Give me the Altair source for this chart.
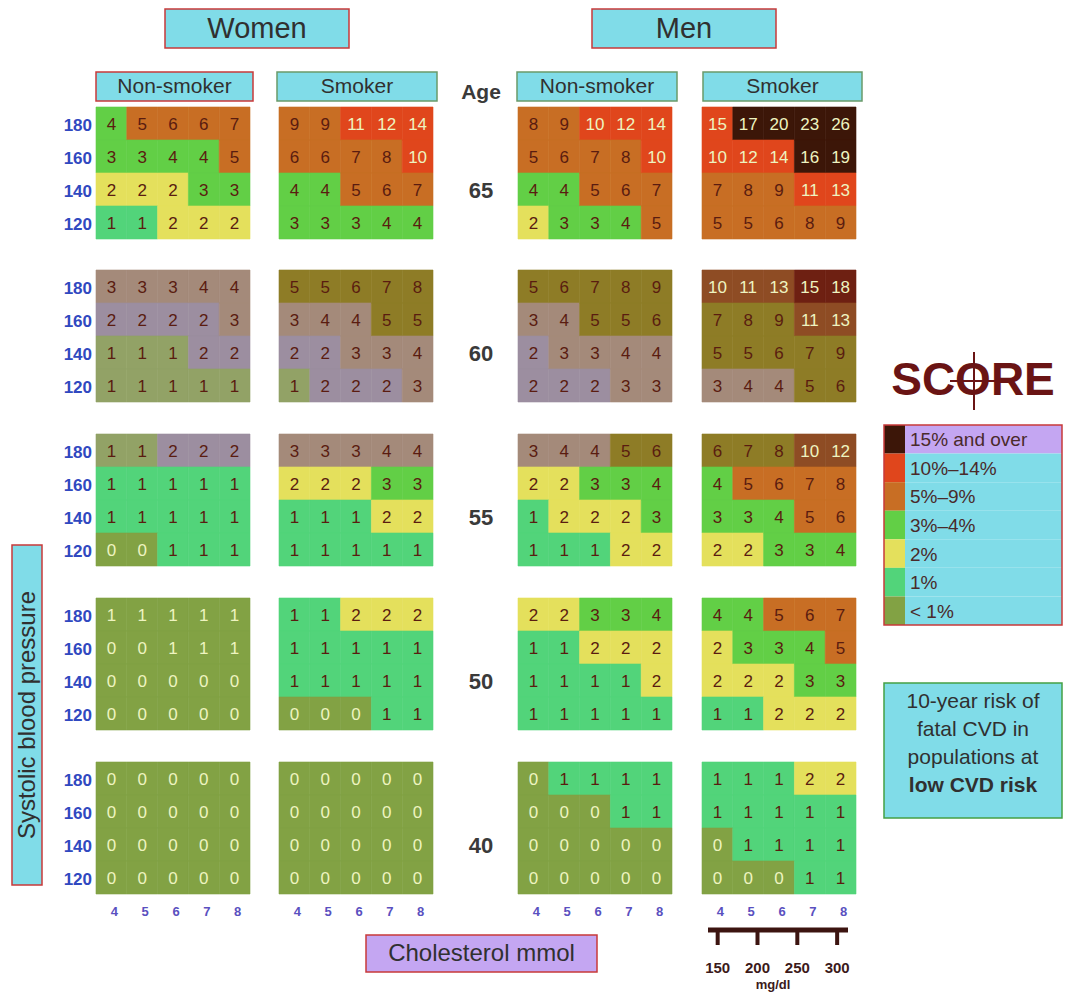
import altair as alt
import pandas as pd

# ---------------- data ----------------
AGES = [65, 60, 55, 50, 40]
SBP = [180, 160, 140, 120]
CHOL = [4, 5, 6, 7, 8]
MGDL = [150, 200, 250, 300]
PANELS = ["Women Non-smoker", "Women Smoker", "Men Non-smoker", "Men Smoker"]

# each: list over ages (65,60,55,50,40) of rows (180,160,140,120) x chol (4..8)
women_nonsmoker = [
    [[4, 5, 6, 6, 7], [3, 3, 4, 4, 5], [2, 2, 2, 3, 3], [1, 1, 2, 2, 2]],
    [[3, 3, 3, 4, 4], [2, 2, 2, 2, 3], [1, 1, 1, 2, 2], [1, 1, 1, 1, 1]],
    [[1, 1, 2, 2, 2], [1, 1, 1, 1, 1], [1, 1, 1, 1, 1], [0, 0, 1, 1, 1]],
    [[1, 1, 1, 1, 1], [0, 0, 1, 1, 1], [0, 0, 0, 0, 0], [0, 0, 0, 0, 0]],
    [[0, 0, 0, 0, 0], [0, 0, 0, 0, 0], [0, 0, 0, 0, 0], [0, 0, 0, 0, 0]],
]
women_smoker = [
    [[9, 9, 11, 12, 14], [6, 6, 7, 8, 10], [4, 4, 5, 6, 7], [3, 3, 3, 4, 4]],
    [[5, 5, 6, 7, 8], [3, 4, 4, 5, 5], [2, 2, 3, 3, 4], [1, 2, 2, 2, 3]],
    [[3, 3, 3, 4, 4], [2, 2, 2, 3, 3], [1, 1, 1, 2, 2], [1, 1, 1, 1, 1]],
    [[1, 1, 2, 2, 2], [1, 1, 1, 1, 1], [1, 1, 1, 1, 1], [0, 0, 0, 1, 1]],
    [[0, 0, 0, 0, 0], [0, 0, 0, 0, 0], [0, 0, 0, 0, 0], [0, 0, 0, 0, 0]],
]
men_nonsmoker = [
    [[8, 9, 10, 12, 14], [5, 6, 7, 8, 10], [4, 4, 5, 6, 7], [2, 3, 3, 4, 5]],
    [[5, 6, 7, 8, 9], [3, 4, 5, 5, 6], [2, 3, 3, 4, 4], [2, 2, 2, 3, 3]],
    [[3, 4, 4, 5, 6], [2, 2, 3, 3, 4], [1, 2, 2, 2, 3], [1, 1, 1, 2, 2]],
    [[2, 2, 3, 3, 4], [1, 1, 2, 2, 2], [1, 1, 1, 1, 2], [1, 1, 1, 1, 1]],
    [[0, 1, 1, 1, 1], [0, 0, 0, 1, 1], [0, 0, 0, 0, 0], [0, 0, 0, 0, 0]],
]
men_smoker = [
    [[15, 17, 20, 23, 26], [10, 12, 14, 16, 19], [7, 8, 9, 11, 13], [5, 5, 6, 8, 9]],
    [[10, 11, 13, 15, 18], [7, 8, 9, 11, 13], [5, 5, 6, 7, 9], [3, 4, 4, 5, 6]],
    [[6, 7, 8, 10, 12], [4, 5, 6, 7, 8], [3, 3, 4, 5, 6], [2, 2, 3, 3, 4]],
    [[4, 4, 5, 6, 7], [2, 3, 3, 4, 5], [2, 2, 2, 3, 3], [1, 1, 2, 2, 2]],
    [[1, 1, 1, 2, 2], [1, 1, 1, 1, 1], [0, 1, 1, 1, 1], [0, 0, 0, 1, 1]],
]
GRIDS = [women_nonsmoker, women_smoker, men_nonsmoker, men_smoker]

RISK_CLASSES = ["15% and over", "10%–14%", "5%–9%", "3%–4%", "2%", "1%", "< 1%"]
# cells whose colour band differs from the rounded number (panel, age, sbp, chol, class)
CLASS_OVERRIDES = [
    ("Men Smoker", 65, 180, 4, "10%–14%"),
    ("Women Non-smoker", 50, 180, 4, "< 1%"),
    ("Women Non-smoker", 50, 180, 5, "< 1%"),
    ("Women Non-smoker", 50, 180, 6, "< 1%"),
    ("Women Non-smoker", 50, 180, 7, "< 1%"),
    ("Women Non-smoker", 50, 180, 8, "< 1%"),
    ("Women Non-smoker", 50, 160, 6, "< 1%"),
    ("Women Non-smoker", 50, 160, 7, "< 1%"),
    ("Women Non-smoker", 50, 160, 8, "< 1%"),
]

INFO_LINES = ["10-year risk of", "fatal CVD in", "populations at"]
INFO_BOLD = "low CVD risk"

# ---------------- styling / layout ----------------
NORMAL = {"15% and over": "#3c1608", "10%–14%": "#e0461c", "5%–9%": "#c86e24",
          "3%–4%": "#62cf46", "2%": "#e4e05c", "1%": "#52d47a", "< 1%": "#82a244"}
MUTED = {"15% and over": "#6e2012", "10%–14%": "#8e4c24", "5%–9%": "#8e7c26",
         "3%–4%": "#a48a7a", "2%": "#9c8ea0", "1%": "#92a266", "< 1%": "#82a244"}
CYAN = "#80dce8"
LAV = "#c4a6f2"
FONT = "Liberation Sans"

PANEL_LEFT = [96, 279, 518, 702]
AGE_TOP = [107, 270, 434, 598, 762]
CW, CH = 30.8, 33.0
LX0, LX1 = 884, 1062   # right-hand legend column

XS = alt.Scale(domain=[8, 1064], nice=False, zero=False)
YS = alt.Scale(domain=[8, 997], nice=False, zero=False, reverse=True)


def band(v):
    if v >= 15:
        return "15% and over"
    if v >= 10:
        return "10%–14%"
    if v >= 5:
        return "5%–9%"
    if v >= 3:
        return "3%–4%"
    if v == 2:
        return "2%"
    if v == 1:
        return "1%"
    return "< 1%"


ov = {(p, a, s, c): k for p, a, s, c, k in CLASS_OVERRIDES}
rows = []
for pi, (pname, grid) in enumerate(zip(PANELS, GRIDS)):
    for ai, age in enumerate(AGES):
        for ri, sbp in enumerate(SBP):
            for ci, chol in enumerate(CHOL):
                v = grid[ai][ri][ci]
                cls = ov.get((pname, age, sbp, chol), band(v))
                muted = age == 60 or (age == 55 and sbp == 180)
                pal = MUTED if muted else NORMAL
                light = cls in ("15% and over", "10%–14%", "< 1%")
                x0 = PANEL_LEFT[pi] + ci * CW
                y0 = AGE_TOP[ai] + ri * CH
                rows.append(dict(panel=pname, age=age, sbp=sbp, chol=chol, value=str(v),
                                 cls=cls, fill=pal[cls],
                                 tcol=("#eef4c0" if light else "#5a1c10"),
                                 x0=x0, x1=x0 + CW, xc=x0 + CW / 2,
                                 y0=y0, y1=y0 + CH, yc=y0 + CH / 2 + 1))
cells = pd.DataFrame(rows)


def X(f):
    return alt.X(f, type="quantitative", scale=XS, axis=None)


def Y(f):
    return alt.Y(f, type="quantitative", scale=YS, axis=None)


def rects(df, sw=1.5):
    return alt.Chart(df).mark_rect(strokeWidth=sw).encode(
        x=X("x0"), x2="x1", y=Y("y0"), y2="y1",
        fill=alt.Fill("fill:N", scale=None), stroke=alt.Stroke("stroke:N", scale=None))


def texts(df, size, bold=False, color="#303030", align="center", angle=0, font=FONT):
    kw = dict(fontSize=size, font=font, fontWeight=("bold" if bold else "normal"),
              color=color, align=align, baseline="middle")
    if angle:
        kw["angle"] = angle
    return alt.Chart(df).mark_text(**kw).encode(x=X("x"), y=Y("y"), text="t:N")


layers = []
LC = (LX0 + LX1) / 2

# header boxes
hdr = pd.DataFrame([
    dict(x0=165, x1=349, y0=9, y1=48, fill=CYAN, stroke="#c83a3a"),
    dict(x0=592, x1=776, y0=9, y1=48, fill=CYAN, stroke="#c83a3a"),
    dict(x0=96, x1=253, y0=72, y1=101, fill=CYAN, stroke="#c83a3a"),
    dict(x0=277, x1=437, y0=72, y1=101, fill=CYAN, stroke="#6a9a6a"),
    dict(x0=517, x1=677, y0=72, y1=101, fill=CYAN, stroke="#6a9a6a"),
    dict(x0=703, x1=862, y0=72, y1=101, fill=CYAN, stroke="#6a9a6a"),
    dict(x0=366, x1=597, y0=935, y1=972, fill=LAV, stroke="#c83a3a"),
    dict(x0=12, x1=42, y0=545, y1=885, fill=CYAN, stroke="#c83a3a"),
    dict(x0=LX0, x1=LX1, y0=683, y1=818, fill=CYAN, stroke="#44a044"),
])
layers.append(rects(hdr))
layers.append(texts(pd.DataFrame([dict(x=257, y=29, t="Women"), dict(x=684, y=29, t="Men")]), 29))
layers.append(texts(pd.DataFrame([
    dict(x=174.5, y=87, t="Non-smoker"), dict(x=357, y=87, t="Smoker"),
    dict(x=597, y=87, t="Non-smoker"), dict(x=782.5, y=87, t="Smoker")]), 21))
layers.append(texts(pd.DataFrame([dict(x=481.5, y=954, t="Cholesterol  mmol")]), 24))
layers.append(texts(pd.DataFrame([dict(x=28, y=715, t="Systolic blood pressure")]), 24, angle=270))

# heat-map cells
layers.append(alt.Chart(cells).mark_rect(strokeWidth=0.6).encode(
    x=X("x0"), x2="x1", y=Y("y0"), y2="y1",
    fill=alt.Fill("fill:N", scale=None), stroke=alt.Stroke("fill:N", scale=None)))
layers.append(alt.Chart(cells).mark_text(fontSize=17, font=FONT, baseline="middle").encode(
    x=X("xc"), y=Y("yc"), text="value:N", color=alt.Color("tcol:N", scale=None)))

# Age labels
layers.append(texts(pd.DataFrame([dict(x=481, y=93, t="Age")]), 21, bold=True, color="#3a3a3a"))
age_lab = pd.DataFrame([dict(x=481, y=AGE_TOP[i] + 2.5 * CH + 1, t=str(a)) for i, a in enumerate(AGES)])
layers.append(texts(age_lab, 22, bold=True, color="#3a3a3a"))

# SBP tick labels
sbp_lab = pd.DataFrame([dict(x=92, y=AGE_TOP[i] + (j + 0.5) * CH + 2, t=str(s))
                        for i in range(len(AGES)) for j, s in enumerate(SBP)])
layers.append(texts(sbp_lab, 17, bold=True, color="#3048c0", align="right"))

# cholesterol tick labels
ch_lab = pd.DataFrame([dict(x=PANEL_LEFT[p] + (k + 0.5) * CW + 3, y=912, t=str(c))
                       for p in range(4) for k, c in enumerate(CHOL)])
layers.append(texts(ch_lab, 13, bold=True, color="#5a50c0"))

# mg/dl ruler under men smoker
mg = pd.DataFrame([dict(v=m, x=PANEL_LEFT[3] + (m / 38.67 - CHOL[0] + 0.5) * CW + 4) for m in MGDL])
layers.append(alt.Chart(pd.DataFrame([dict(x0=708, x1=848, y=930)])).mark_rule(
    strokeWidth=5, color="#3c1410").encode(x=X("x0"), x2="x1", y=Y("y")))
mg["ya"], mg["yb"] = 930, 945
layers.append(alt.Chart(mg).mark_rule(strokeWidth=4, color="#3c1410").encode(
    x=X("x"), y=Y("ya"), y2="yb"))
mg["y"] = 968
mg["t"] = mg["v"].astype(str)
layers.append(texts(mg, 15, bold=True, color="#3c1a1a"))
layers.append(texts(pd.DataFrame([dict(x=773, y=985, t="mg/dl")]), 13, bold=True, color="#3c1a1a"))

# SCORE logo
layers.append(texts(pd.DataFrame([dict(x=LC, y=381, t="SCORE")]), 46, bold=True, color="#6a1414"))
layers.append(alt.Chart(pd.DataFrame([dict(x=LC + 1, y0=352, y1=410)])).mark_rule(
    strokeWidth=2, color="#6a1414").encode(x=X("x"), y=Y("y0"), y2="y1"))
layers.append(alt.Chart(pd.DataFrame([dict(x0=LC - 23, x1=LC + 25, y=381)])).mark_rule(
    strokeWidth=2, color="#6a1414").encode(x=X("x0"), x2="x1", y=Y("y")))

# risk legend
LT, LH = 425, 200 / 7
SW = LX0 + 21
leg_sw = pd.DataFrame([dict(x0=LX0, x1=SW, y0=LT + i * LH, y1=LT + (i + 1) * LH,
                            fill=NORMAL[c], stroke=NORMAL[c]) for i, c in enumerate(RISK_CLASSES)])
leg_bg = pd.DataFrame([dict(x0=SW, x1=LX1, y0=LT + i * LH, y1=LT + (i + 1) * LH,
                            fill=(LAV if i == 0 else CYAN), stroke=(LAV if i == 0 else CYAN))
                       for i, c in enumerate(RISK_CLASSES)])
layers.append(rects(leg_bg, sw=0))
layers.append(rects(leg_sw, sw=0))
layers.append(alt.Chart(pd.DataFrame([dict(x0=LX0, x1=LX1, y0=LT, y1=LT + 200)])).mark_rect(
    fill=None, stroke="#c83a3a", strokeWidth=1.5).encode(x=X("x0"), x2="x1", y=Y("y0"), y2="y1"))
leg_t = pd.DataFrame([dict(x=SW + 5, y=LT + (i + 0.5) * LH + 1, t=c) for i, c in enumerate(RISK_CLASSES)])
layers.append(texts(leg_t, 19, color="#4a2a2a", align="left"))

# info box text
info = pd.DataFrame([dict(x=LC, y=702 + i * 28, t=s) for i, s in enumerate(INFO_LINES)])
layers.append(texts(info, 21))
layers.append(texts(pd.DataFrame([dict(x=LC, y=702 + 3 * 28, t=INFO_BOLD)]), 21, bold=True))

chart = alt.layer(*layers).properties(
    width=1056, height=989, padding=0, background="white",
    autosize=alt.AutoSizeParams(type="none")
).configure_view(stroke=None)

chart.save("out.html", embed_options={"renderer": "svg", "actions": False})
